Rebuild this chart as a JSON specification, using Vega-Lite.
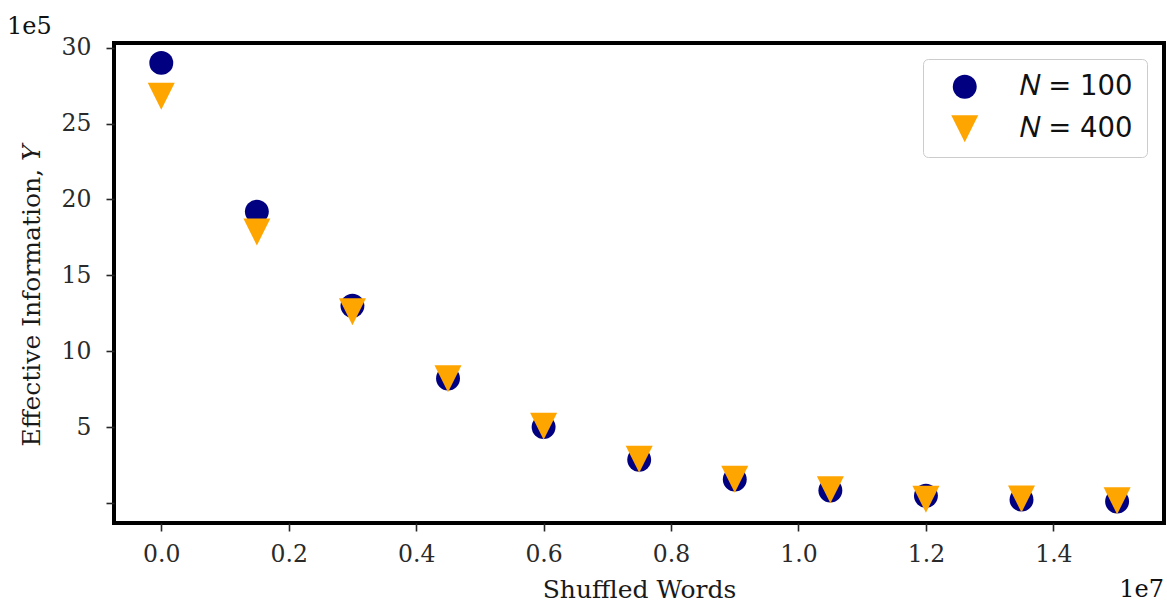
{
  "$schema": "https://vega.github.io/schema/vega-lite/v6.json",
  "autosize": "none",
  "width": 1050,
  "height": 480,
  "padding": {"left": 114, "top": 43, "right": 3, "bottom": 81},
  "background": "white",
  "config": {
    "view": {"stroke": "black", "strokeWidth": 4},
    "font": "DejaVu Serif",
    "axis": {
      "labelFont": "DejaVu Serif",
      "labelFontSize": 23.5,
      "labelColor": "#2a2a2a",
      "titleFont": "DejaVu Serif",
      "titleFontSize": 25,
      "titleFontWeight": "normal",
      "titleColor": "#1a1a1a",
      "tickColor": "#262626",
      "tickWidth": 1.6,
      "tickSize": 8,
      "domain": false,
      "grid": false
    }
  },
  "title": {
    "text": "1e5",
    "anchor": "start",
    "frame": "bounds",
    "font": "DejaVu Serif",
    "fontSize": 24,
    "fontWeight": "normal",
    "color": "#111111",
    "dx": -12,
    "offset": -3
  },
  "layer": [
    {
      "data": {
        "values": [
          {"words": 0, "info": 2900000, "series": "𝑁 = 100"},
          {"words": 1500000, "info": 1920000, "series": "𝑁 = 100"},
          {"words": 3000000, "info": 1300000, "series": "𝑁 = 100"},
          {"words": 4500000, "info": 820000, "series": "𝑁 = 100"},
          {"words": 6000000, "info": 500000, "series": "𝑁 = 100"},
          {"words": 7500000, "info": 285000, "series": "𝑁 = 100"},
          {"words": 9000000, "info": 155000, "series": "𝑁 = 100"},
          {"words": 10500000, "info": 82000, "series": "𝑁 = 100"},
          {"words": 12000000, "info": 48000, "series": "𝑁 = 100"},
          {"words": 13500000, "info": 22000, "series": "𝑁 = 100"},
          {"words": 15000000, "info": 10000, "series": "𝑁 = 100"},
          {"words": 0, "info": 2680000, "series": "𝑁 = 400"},
          {"words": 1500000, "info": 1785000, "series": "𝑁 = 400"},
          {"words": 3000000, "info": 1260000, "series": "𝑁 = 400"},
          {"words": 4500000, "info": 818000, "series": "𝑁 = 400"},
          {"words": 6000000, "info": 505000, "series": "𝑁 = 400"},
          {"words": 7500000, "info": 288000, "series": "𝑁 = 400"},
          {"words": 9000000, "info": 157000, "series": "𝑁 = 400"},
          {"words": 10500000, "info": 87000, "series": "𝑁 = 400"},
          {"words": 12000000, "info": 24000, "series": "𝑁 = 400"},
          {"words": 13500000, "info": 26000, "series": "𝑁 = 400"},
          {"words": 15000000, "info": 14000, "series": "𝑁 = 400"}
        ]
      },
      "mark": {"type": "point", "filled": true, "opacity": 1, "strokeWidth": 0},
      "encoding": {
        "x": {
          "field": "words",
          "type": "quantitative",
          "title": "Shuffled Words",
          "scale": {"domain": [-742000, 15736000], "nice": false, "zero": false},
          "axis": {
            "values": [0, 2000000, 4000000, 6000000, 8000000, 10000000, 12000000, 14000000],
            "labelExpr": "format(datum.value / 1e7, '.1f')",
            "labelPadding": 11,
            "titlePadding": 12
          }
        },
        "y": {
          "field": "info",
          "type": "quantitative",
          "title": "Effective Information, 𝑌",
          "scale": {"domain": [-132000, 3031000], "nice": false, "zero": false},
          "axis": {
            "values": [0, 500000, 1000000, 1500000, 2000000, 2500000, 3000000],
            "labelExpr": "datum.value == 0 ? '' : format(datum.value / 1e5, 'd')",
            "labelPadding": 15,
            "titlePadding": 17,
            "titleY": 252
          }
        },
        "color": {
          "field": "series",
          "type": "nominal",
          "scale": {"domain": ["𝑁 = 100", "𝑁 = 400"], "range": ["#000080", "#ffa500"]},
          "legend": {
            "title": null,
            "orient": "none",
            "legendX": 809,
            "legendY": 16,
            "padding": 14,
            "symbolOffset": 14,
            "labelOffset": 41,
            "labelFont": "DejaVu Sans",
            "labelFontSize": 27.5,
            "labelColor": "#111111",
            "labelLimit": 300,
            "rowPadding": 13,
            "fillColor": "white",
            "strokeColor": "#cccccc",
            "cornerRadius": 5,
            "symbolStrokeWidth": 0
          }
        },
        "shape": {
          "field": "series",
          "type": "nominal",
          "scale": {"domain": ["𝑁 = 100", "𝑁 = 400"], "range": ["circle", "M-1,-1L1,-1L0,1Z"]}
        },
        "size": {
          "field": "series",
          "type": "nominal",
          "scale": {"domain": ["𝑁 = 100", "𝑁 = 400"], "range": [572, 729]}
        }
      }
    },
    {
      "data": {"values": [{"label": "1e7"}]},
      "mark": {"type": "text", "align": "right", "baseline": "alphabetic", "dy": 74, "font": "DejaVu Serif", "fontSize": 24, "color": "#111111", "clip": false},
      "encoding": {
        "x": {"datum": 15736000, "type": "quantitative"},
        "y": {"datum": -132000, "type": "quantitative"},
        "text": {"field": "label", "type": "nominal"}
      }
    }
  ]
}
